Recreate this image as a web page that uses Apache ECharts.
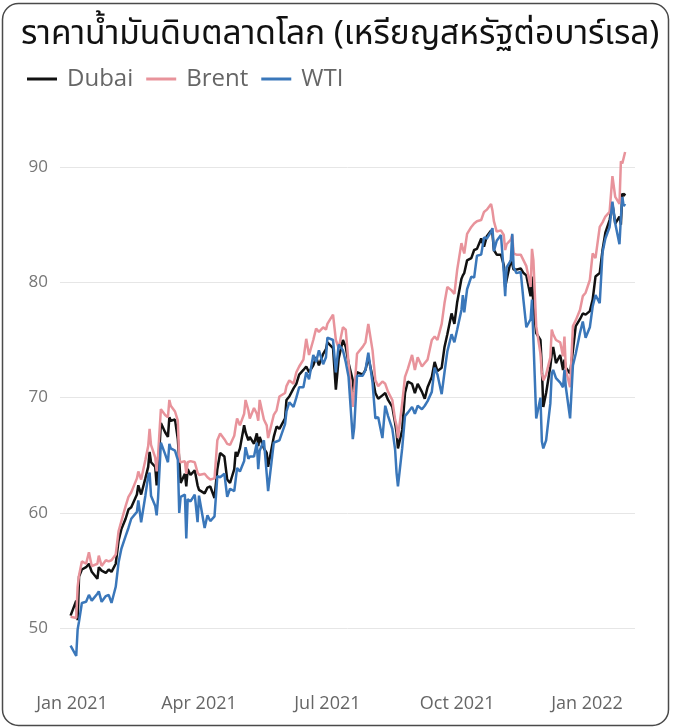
<!DOCTYPE html>
<html>
<head>
<meta charset="utf-8">
<script src="https://cdn.jsdelivr.net/npm/echarts@6/dist/echarts.min.js"></script>
<style>
html, body { margin: 0; padding: 0; background: #fff; }
#chart { width: 675px; height: 728px; }
</style>
</head>
<body>
<div id="chart"></div>
<script>
// trading days shown (one line per month)
var dates = [
    '2020-12-31','2021-01-04','2021-01-05','2021-01-06','2021-01-08','2021-01-11','2021-01-13','2021-01-15','2021-01-19','2021-01-20','2021-01-22','2021-01-25','2021-01-27','2021-01-29',
    '2021-02-01','2021-02-03','2021-02-05','2021-02-08','2021-02-10','2021-02-12','2021-02-16','2021-02-17','2021-02-19','2021-02-22','2021-02-24','2021-02-25','2021-02-26',
    '2021-03-01','2021-03-02','2021-03-03','2021-03-05','2021-03-08','2021-03-10','2021-03-11','2021-03-12','2021-03-15','2021-03-17','2021-03-18','2021-03-19','2021-03-22','2021-03-23','2021-03-24','2021-03-26','2021-03-29','2021-03-31',
    '2021-04-01','2021-04-05','2021-04-07','2021-04-09','2021-04-12','2021-04-14','2021-04-16','2021-04-19','2021-04-21','2021-04-23','2021-04-26','2021-04-27','2021-04-28','2021-04-30',
    '2021-05-03','2021-05-04','2021-05-06','2021-05-07','2021-05-10','2021-05-12','2021-05-13','2021-05-14','2021-05-17','2021-05-19','2021-05-20','2021-05-24','2021-05-26','2021-05-28',
    '2021-06-01','2021-06-02','2021-06-04','2021-06-07','2021-06-09','2021-06-11','2021-06-14','2021-06-16','2021-06-18','2021-06-21','2021-06-23','2021-06-25','2021-06-28','2021-06-30',
    '2021-07-01','2021-07-05','2021-07-07','2021-07-09','2021-07-12','2021-07-14','2021-07-16','2021-07-19','2021-07-20','2021-07-22','2021-07-26','2021-07-28','2021-07-30',
    '2021-08-02','2021-08-04','2021-08-06','2021-08-09','2021-08-11','2021-08-13','2021-08-16','2021-08-18','2021-08-19','2021-08-20','2021-08-23','2021-08-25','2021-08-27','2021-08-30',
    '2021-09-01','2021-09-03','2021-09-06','2021-09-08','2021-09-10','2021-09-13','2021-09-15','2021-09-17','2021-09-20','2021-09-22','2021-09-24','2021-09-27','2021-09-29',
    '2021-10-01','2021-10-04','2021-10-05','2021-10-06','2021-10-08','2021-10-11','2021-10-13','2021-10-15','2021-10-18','2021-10-20','2021-10-22','2021-10-25','2021-10-26','2021-10-27','2021-10-29',
    '2021-11-01','2021-11-03','2021-11-04','2021-11-05','2021-11-08','2021-11-09','2021-11-10','2021-11-12','2021-11-15','2021-11-17','2021-11-19','2021-11-22','2021-11-23','2021-11-24','2021-11-26','2021-11-29','2021-11-30',
    '2021-12-01','2021-12-03','2021-12-06','2021-12-07','2021-12-08','2021-12-10','2021-12-13','2021-12-15','2021-12-16','2021-12-17','2021-12-20','2021-12-22','2021-12-24','2021-12-27','2021-12-29','2021-12-31',
    '2022-01-03','2022-01-05','2022-01-07','2022-01-10','2022-01-12','2022-01-14','2022-01-17','2022-01-19','2022-01-21','2022-01-24','2022-01-25','2022-01-26','2022-01-27','2022-01-28'
];
var dubai = [
    51.1,52.4,50.7,54.5,55.1,55.3,55.6,54.9,54.3,55.3,55.0,54.8,55.1,54.9,
    55.6,57.6,58.6,59.5,60.3,60.5,61.6,62.4,61.6,63.0,64.0,65.3,64.4,
    64.0,62.4,63.5,67.8,67.0,66.6,68.3,68.0,68.1,66.4,64.6,62.6,63.4,62.3,63.8,63.3,63.7,62.4,
    62.0,61.7,62.2,62.3,61.3,63.8,65.2,64.9,62.9,62.6,63.8,65.3,64.9,65.6,
    67.6,67.0,66.3,66.6,66.0,66.9,65.8,66.6,65.6,65.2,64.0,66.6,67.5,67.3,
    68.2,69.8,70.1,70.8,71.2,72.0,72.4,72.7,72.2,72.8,73.5,72.8,73.8,74.2,
    74.8,74.3,70.7,73.4,75.0,74.4,73.0,71.5,70.1,72.2,72.0,72.4,73.5,
    71.8,70.4,69.9,70.2,70.4,69.8,69.2,67.8,67.0,65.6,67.2,70.4,71.4,71.2,
    70.4,71.2,70.5,69.9,70.9,71.8,73.1,72.3,72.6,74.4,75.5,77.3,76.4,
    78.3,80.3,80.6,80.8,81.9,82.1,82.8,82.9,83.8,83.1,84.0,84.5,84.2,82.8,82.4,
    82.4,81.5,79.6,80.2,81.9,81.6,81.1,81.1,81.2,80.8,80.6,78.8,80.5,77.9,75.6,75.0,72.5,
    69.2,70.4,72.7,73.8,74.4,73.0,73.7,72.4,73.3,72.6,72.1,74.1,76.2,76.8,77.3,77.2,
    77.5,78.5,80.5,80.8,82.8,84.3,85.4,86.8,85.1,85.7,85.0,87.7,87.5,87.7
];
var brent = [
    51.0,50.9,53.6,54.6,55.8,55.6,56.6,55.4,55.6,56.3,55.4,55.9,55.8,55.9,
    56.4,58.4,59.3,60.6,61.4,61.8,63.0,63.6,62.9,64.6,65.8,67.3,65.9,
    64.8,63.6,65.0,69.0,68.5,68.3,69.8,69.3,68.8,68.0,64.6,64.4,64.5,63.4,64.4,64.5,64.4,63.5,
    63.3,63.4,63.1,62.9,63.0,66.3,66.9,66.4,66.0,65.9,66.7,67.5,68.2,67.6,
    68.6,69.8,68.9,68.2,69.1,68.6,68.0,69.8,68.1,67.6,66.5,68.5,68.9,70.1,
    70.4,71.0,71.5,71.2,72.2,72.7,73.3,75.1,73.7,75.0,76.0,75.7,76.1,75.9,
    76.4,77.2,75.0,74.3,76.1,75.9,73.0,69.2,70.5,73.8,74.4,74.8,76.4,
    74.1,71.5,71.0,71.4,71.2,70.5,69.8,68.1,67.6,66.5,69.5,71.8,72.5,73.7,
    72.4,73.5,72.7,73.0,73.3,75.0,75.3,75.0,76.4,78.2,79.6,79.3,79.0,
    81.1,83.4,82.9,82.5,84.2,84.8,85.1,85.3,85.4,86.1,86.3,86.8,86.2,85.3,84.4,
    84.5,84.1,82.8,83.3,83.7,84.1,82.5,82.4,82.4,81.9,81.4,79.6,82.9,81.9,76.2,73.8,72.1,
    71.5,72.0,73.5,75.9,75.5,75.0,74.8,73.6,75.3,72.4,70.9,76.2,76.7,77.6,78.8,79.1,
    80.2,82.5,82.1,84.8,85.2,85.7,86.1,89.2,87.4,86.8,90.5,90.3,90.2,91.3
];
var wti = [
    48.5,47.6,49.9,50.6,52.2,52.3,52.9,52.4,53.0,53.2,52.3,52.8,52.9,52.2,
    53.6,55.7,56.9,58.0,58.7,59.5,60.1,61.1,59.2,61.5,63.2,63.5,61.5,
    60.6,59.8,61.3,66.1,65.1,64.4,66.0,65.6,65.4,64.6,60.0,61.4,61.6,57.8,61.2,61.0,61.6,59.2,
    61.5,58.7,59.8,59.3,59.7,63.2,63.1,63.4,61.4,62.1,61.9,62.9,63.9,63.6,
    64.5,65.7,64.7,64.9,64.9,66.1,63.8,65.4,66.3,63.4,61.9,66.1,66.2,66.3,
    67.7,68.8,69.6,69.2,70.0,70.9,70.9,72.2,71.6,73.7,73.1,74.1,72.9,73.5,
    75.2,75.0,72.2,74.6,74.1,73.1,71.8,66.4,67.4,71.9,71.9,72.4,73.9,
    71.3,68.2,68.3,66.5,69.3,68.4,67.3,65.5,63.5,62.3,65.6,68.4,68.7,69.2,
    68.6,69.3,69.0,69.3,69.7,70.5,72.6,72.0,70.3,72.2,74.0,75.5,74.8,
    75.9,77.6,78.9,77.4,79.4,80.5,80.4,82.3,82.4,83.9,83.8,84.4,84.7,82.7,83.6,
    84.1,80.9,78.8,81.3,81.9,84.2,81.3,80.8,80.9,78.4,76.1,76.8,78.5,78.4,68.2,70.0,66.2,
    65.6,66.3,69.5,72.1,72.4,71.7,71.3,70.9,72.4,70.9,68.2,72.8,73.8,75.6,76.6,75.2,
    76.1,77.9,78.9,78.2,82.6,83.8,84.8,87.0,85.1,83.3,85.6,87.4,86.6,86.8
];
var seriesNames = ['Dubai', 'Brent', 'WTI'];
var yTicks = [50, 60, 70, 80, 90];
var xTicks = ['2021-01-01', '2021-04-01', '2021-07-01', '2021-10-01', '2022-01-01'];
var monthNames = ['Jan','Feb','Mar','Apr','May','Jun','Jul','Aug','Sep','Oct','Nov','Dec'];
var colors = ['#111111', '#E8939B', '#3A77BA'];

function toTime(s) {
    var p = s.split('-');
    return new Date(+p[0], +p[1] - 1, +p[2]).getTime();
}
function pairs(values) {
    return dates.map(function(d, i) { return [toTime(d), values[i]]; });
}

var chart = echarts.init(document.getElementById('chart'));
chart.setOption({
    animation: false,
    color: colors,
    textStyle: { fontFamily: '"Open Sans", sans-serif' },
    title: {
        text: 'ราคาน้ำมันดิบตลาดโลก (เหรียญสหรัฐต่อบาร์เรล)',
        left: 16,
        top: 15,
        textStyle: { fontSize: 33.5, fontWeight: 'normal', color: '#111', fontFamily: '"Noto Sans Thai", Tahoma, sans-serif' }
    },
    legend: {
        left: 22,
        top: 62,
        icon: 'rect',
        itemWidth: 30,
        itemHeight: 3,
        itemGap: 13,
        data: seriesNames,
        textStyle: { fontSize: 24, color: '#666', padding: [0, 0, 0, 5] }
    },
    grid: { left: 60, right: 40, top: 109.3, bottom: 42 },
    xAxis: {
        // dates as timestamps on a plain value axis
        type: 'value',
        min: new Date(2020, 11, 23, 12).getTime(),
        max: new Date(2022, 1, 4).getTime(),
        axisLine: { show: false },
        axisTick: { show: false, customValues: xTicks.map(toTime) },
        splitLine: { show: false },
        axisLabel: {
            customValues: xTicks.map(toTime),
            formatter: function(v) {
                var d = new Date(v);
                return monthNames[d.getMonth()] + ' ' + d.getFullYear();
            },
            color: '#666',
            fontSize: 18,
            margin: 9
        }
    },
    yAxis: {
        type: 'value',
        min: 45,
        max: 95,
        axisLine: { show: false },
        axisTick: { show: false, customValues: yTicks },
        axisLabel: { customValues: yTicks, color: '#777', fontSize: 17, margin: 12 },
        splitLine: { lineStyle: { color: '#e6e6e6', width: 1 } }
    },
    graphic: [{
        type: 'rect',
        silent: true,
        shape: { x: 2.5, y: 3.5, width: 666, height: 722, r: 16 },
        style: { fill: 'none', stroke: '#4a4a4a', lineWidth: 1.5 }
    }],
    series: seriesNames.map(function(name, i) {
        return {
            name: name,
            type: 'line',
            symbol: 'none',
            lineStyle: { width: 2.5, color: colors[i] },
            data: pairs([dubai, brent, wti][i])
        };
    })
});
</script>
</body>
</html>
